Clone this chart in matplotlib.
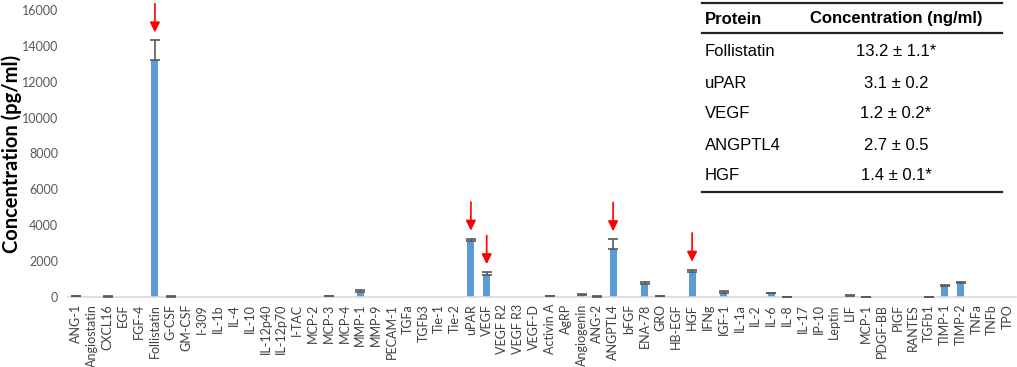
import matplotlib
matplotlib.use('Agg')
import matplotlib.pyplot as plt
from matplotlib.lines import Line2D
import numpy as np

proteins = ['ANG-1', 'Angiostatin', 'CXCL16', 'EGF', 'FGF-4', 'Follistatin', 'G-CSF', 'GM-CSF',
            'I-309', 'IL-1b', 'IL-4', 'IL-10', 'IL-12p40', 'IL-12p70', 'I-TAC', 'MCP-2', 'MCP-3',
            'MCP-4', 'MMP-1', 'MMP-9', 'PECAM-1', 'TGFa', 'TGFb3', 'Tie-1', 'Tie-2', 'uPAR', 'VEGF',
            'VEGF R2', 'VEGF R3', 'VEGF-D', 'Activin A', 'AgRP', 'Angiogenin', 'ANG-2', 'ANGPTL4',
            'bFGF', 'ENA-78', 'GRO', 'HB-EGF', 'HGF', 'IFNg', 'IGF-1', 'IL-1a', 'IL-2', 'IL-6',
            'IL-8', 'IL-17', 'IP-10', 'Leptin', 'LIF', 'MCP-1', 'PDGF-BB', 'PIGF', 'RANTES',
            'TGFb1', 'TIMP-1', 'TIMP-2', 'TNFa', 'TNFb', 'TPO']

conc = [40, 0, 10, 0, 0, 13200, 10, 0,
        0, 0, 0, 0, 0, 0, 0, 0, 40,
        0, 300, 0, 0, 0, 0, 0, 0, 3100, 1200,
        0, 0, 0, 40, 0, 100, 20, 2700,
        0, 750, 40, 0, 1400, 0, 200, 0, 0, 200,
        10, 0, 0, 0, 80, 10, 0, 0, 0,
        10, 600, 800, 0, 0, 0]

err = [30, 0, 20, 0, 0, 1100, 20, 0,
       0, 0, 0, 0, 0, 0, 0, 0, 30,
       0, 70, 0, 0, 0, 0, 0, 0, 150, 180,
       0, 0, 0, 30, 0, 40, 20, 520,
       0, 100, 30, 0, 120, 0, 120, 0, 0, 40,
       15, 0, 0, 0, 30, 15, 0, 0, 0,
       15, 60, 60, 0, 0, 0]

marked = ['Follistatin', 'uPAR', 'VEGF', 'ANGPTL4', 'HGF']

tbl_protein = ['Follistatin', 'uPAR', 'VEGF', 'ANGPTL4', 'HGF']
tbl_conc = ['13.2 \u00b1 1.1*', '3.1 \u00b1 0.2', '1.2 \u00b1 0.2*', '2.7 \u00b1 0.5', '1.4 \u00b1 0.1*']

W, H = 1017, 367
fig = plt.figure(figsize=(W / 100, H / 100), dpi=100)
ax = fig.add_axes([68 / W, 1 - 297 / H, (1016 - 68) / W, (297 - 10) / H])

x = np.arange(len(proteins))
conc_a = np.array(conc, dtype=float)
err_a = np.array(err, dtype=float)
ax.bar(x, conc_a, width=0.45, color='#5B9BD5', zorder=2)
has = err_a > 0
ax.errorbar(x[has], conc_a[has], yerr=[np.zeros(has.sum()), err_a[has]], fmt='none',
            ecolor='#595959', elinewidth=1.2, capsize=3.5, capthick=1.2, zorder=3)

# red arrows
for name in marked:
    i = proteins.index(name)
    top = conc[i] + err[i] + 450
    ax.annotate('', xy=(i, top), xytext=(i, top + 1600),
                arrowprops=dict(arrowstyle='-|>', color='red', lw=1.2,
                                mutation_scale=15, shrinkA=0, shrinkB=0),
                annotation_clip=False)

ax.set_xlim(-0.5, len(proteins) - 0.5)
ax.set_ylim(0, 16000)
ax.set_yticks(range(0, 16001, 2000))
ax.set_xticks(x)
ax.set_xticklabels(proteins, rotation=90, fontsize=9, family='Lato', color='#404040')
ax.tick_params(axis='x', length=0, pad=5)
ax.tick_params(axis='y', length=0, labelsize=9, labelcolor='#595959', pad=7)
for lab in ax.get_yticklabels():
    lab.set_family('Lato')
for s in ['top', 'right', 'left']:
    ax.spines[s].set_visible(False)
ax.spines['bottom'].set_color('#D9D9D9')
ax.spines['bottom'].set_linewidth(1.2)
ax.set_ylabel('Concentration (pg/ml)', fontsize=14.5, fontweight='bold', family='Lato')
ax.yaxis.set_label_coords(-(68 - 22) / 948, 0.5)

# table in upper right
def fx(px):
    return px / W

def fy(py):
    return 1 - py / H

for py in [3, 33, 192]:
    fig.add_artist(Line2D([fx(702), fx(1002)], [fy(py), fy(py)], color='#222222', lw=1.6))

fig.text(fx(705), fy(19), 'Protein', fontsize=12, fontweight='bold', family='Liberation Sans',
         va='center', ha='left')
fig.text(fx(896), fy(19), 'Concentration (ng/ml)', fontsize=12, fontweight='bold',
         family='Liberation Sans', va='center', ha='center')
row_y = [52, 83, 114, 146, 176]
for py, p, c in zip(row_y, tbl_protein, tbl_conc):
    fig.text(fx(705), fy(py), p, fontsize=12, family='Liberation Sans', va='center', ha='left')
    fig.text(fx(896), fy(py), c, fontsize=12, family='Liberation Sans', va='center', ha='center')

fig.savefig('out.png', dpi=100)
